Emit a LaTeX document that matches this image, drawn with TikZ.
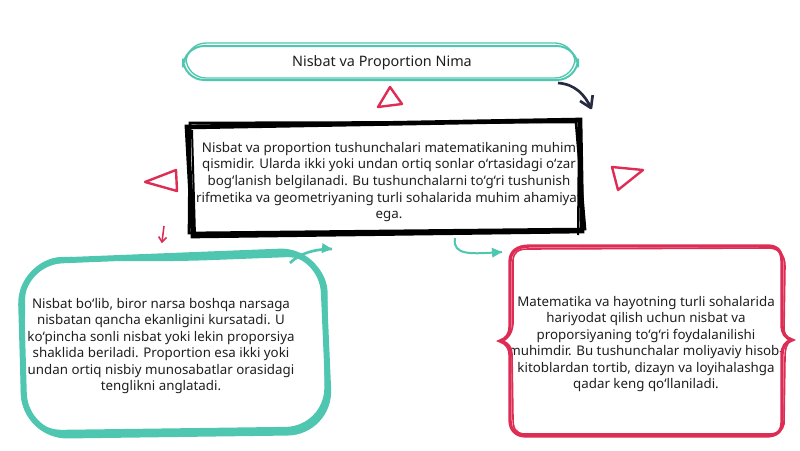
\documentclass[tikz,border=0pt]{standalone}
\usepackage{fontspec}
\setmainfont{Noto Sans}

\begin{document}
\begin{tikzpicture}[x=0.75pt,y=0.75pt,yscale=-1,xscale=1,
  tealline/.style={color={rgb, 255:red, 78; green, 198; blue, 176 }, draw opacity=1},
  redline/.style={color={rgb, 255:red, 221; green, 45; blue, 85 }, draw opacity=1},
  navyline/.style={color={rgb, 255:red, 38; green, 42; blue, 66 }, draw opacity=1},
  bodytext/.style={inner sep=0.75pt, align=center, font=\fontsize{10}{12.4}\selectfont, text={rgb, 255:red, 30; green, 30; blue, 30 }}]
\useasboundingbox (0,0) rectangle (800,450);

% Text Node
\draw (382,63) node (title) [bodytext, font=\fontsize{10.8}{13}\selectfont] {Nisbat va Proportion Nima};
% Text Node
\draw (389,182) node (mainText) [bodytext] {Nisbat va proportion tushunchalari matematikaning muhim\\qismidir. Ularda ikki yoki undan ortiq sonlar o‘rtasidagi o‘zar\\bog‘lanish belgilanadi. Bu tushunchalarni to‘g‘ri tushunish\\rifmetika va geometriyaning turli sohalarida muhim ahamiyat\\ega.};
% Text Node
\draw (161,346) node (leftText) [bodytext] {Nisbat bo‘lib, biror narsa boshqa narsaga\\nisbatan qancha ekanligini kursatadi. U\\ko‘pincha sonli nisbat yoki lekin proporsiya\\shaklida beriladi. Proportion esa ikki yoki\\undan ortiq nisbiy munosabatlar orasidagi\\tenglikni anglatadi.};
% Text Node
\draw (646,344) node (rightText) [bodytext] {Matematika va hayotning turli sohalarida\\hariyodat qilish uchun nisbat va\\proporsiyaning to‘g‘ri foydalanilishi\\muhimdir. Bu tushunchalar moliyaviy hisob-\\kitoblardan tortib, dizayn va loyihalashga\\qadar keng qo‘llaniladi.};

%Shape: Rounded Rect [id:title]
\draw [tealline, line width=1.5, rounded corners=16] (183,46) rectangle (578,80);
\draw [tealline, line width=1, rounded corners=15] (186,43) rectangle (575,78);
%Shape: Polygon [id:main]
\draw [line width=3.5] (187,127) -- (580,120) -- (582,231) -- (193,236) -- cycle;
\draw [line width=2] (190,123) -- (576,122) -- (585,229) -- (189,233) -- cycle;
\draw [line width=1.5] (579,118) -- (578,235);
\draw [line width=1.5] (192,130) -- (195,236);
%Shape: Rounded Rect [id:left]
\draw [tealline, line width=4.5, rounded corners=32] (170,256) -- (322,250) -- (330,432) -- (25,436) -- (20,262) -- cycle;
\draw [tealline, line width=2.5, rounded corners=30] (170,260) -- (326,254) -- (326,428) -- (22,432) -- (24,258) -- cycle;
%Shape: Brace Box [id:right]
\draw [redline, line width=2.5] (530,246) -- (768,246) .. controls (778,246) and (782,252) .. (782,262) -- (782,325) .. controls (782,334) and (786,338) .. (792,340) .. controls (786,342) and (782,346) .. (782,355) -- (782,422) .. controls (782,432) and (776,436) .. (766,436) -- (526,436) .. controls (516,436) and (510,430) .. (510,420) -- (510,356) .. controls (510,347) and (506,343) .. (500,341) .. controls (506,339) and (510,335) .. (510,326) -- (510,262) .. controls (510,252) and (516,246) .. (530,246) -- cycle;
\draw [redline, line width=1.2] (528,249) -- (770,248) .. controls (779,249) and (785,255) .. (785,266) -- (784,330) .. controls (785,336) and (788,339) .. (790,341) .. controls (787,344) and (785,348) .. (785,358) -- (784,424) .. controls (783,431) and (777,434) .. (768,434) -- (524,434) .. controls (515,433) and (513,428) .. (513,418) -- (512,354) .. controls (512,347) and (508,343) .. (503,341) .. controls (508,338) and (512,334) .. (513,324) -- (513,260) .. controls (514,252) and (518,249) .. (528,249) -- cycle;

%Shape: Triangle [id:top]
\draw [redline, line width=1.8, line join=round] (390,87) -- (378,107) -- (402,104) -- cycle;
%Shape: Triangle [id:left]
\draw [redline, line width=1.8, line join=round] (145,182) -- (176,170) -- (177,191) -- cycle;
%Shape: Triangle [id:right]
\draw [redline, line width=1.8, line join=round] (612,167) -- (643,170) -- (618,190) -- cycle;

% arrow ends
\coordinate (navyFrom) at (558,83);
\coordinate (navyTo) at (591,108);
\coordinate (tealAFrom) at (290,263);
\coordinate (tealATo) at (332,249);
\coordinate (tealBFrom) at (455,238);
\coordinate (tealBTo) at (502,252);
\coordinate (redFrom) at (164,226);
\coordinate (redTo) at (162,242);

%Curve Lines [id:navy]
\draw [navyline, line width=2] (navyFrom) .. controls (575,84) and (585,95) .. (navyTo);
\draw [navyline, shift={(591,108)}, rotate=245] [line width=2, line join=round] (11,-7) -- (0,0) -- (11,7);
%Curve Lines [id:tealA]
\draw [tealline, line width=2] (tealAFrom) .. controls (300,253) and (315,249) .. (tealATo);
\draw [shift={(332,249)}, rotate=185] [fill={rgb, 255:red, 78; green, 198; blue, 176 }, fill opacity=1][line width=0.08] [draw opacity=0] (10,-5) -- (0,0) -- (10,5) -- cycle;
%Curve Lines [id:tealB]
\draw [tealline, line width=1.5] (tealBFrom) .. controls (452,256) and (472,254) .. (tealBTo);
\draw [shift={(502,252)}, rotate=176] [fill={rgb, 255:red, 78; green, 198; blue, 176 }, fill opacity=1][line width=0.08] [draw opacity=0] (10,-5) -- (0,0) -- (10,5) -- cycle;
%Straight Lines [id:red]
\draw [redline, line width=1.2] (redFrom) -- (redTo);
\draw [redline, shift={(162,242)}, rotate=277] [line width=1.2] (5,-4) -- (0,0) -- (5,4);

\end{tikzpicture}
\end{document}
